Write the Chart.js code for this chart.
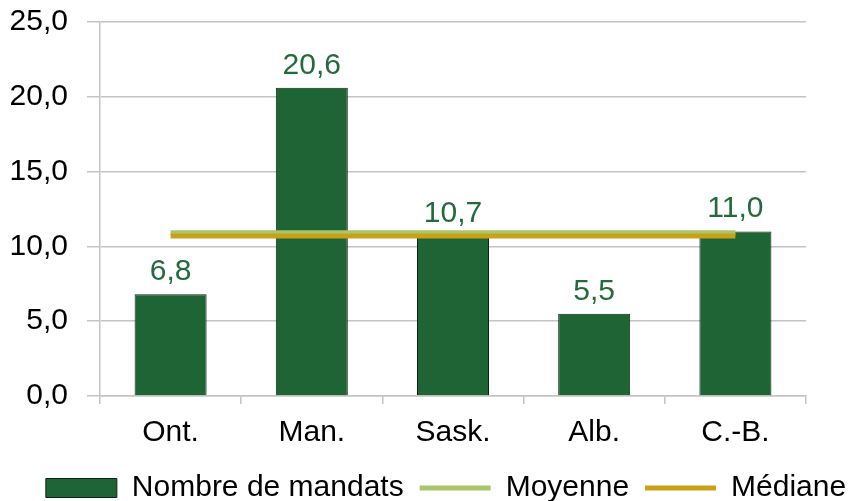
<!DOCTYPE html>
<html>
<head>
<meta charset="utf-8">
<script src="https://cdn.jsdelivr.net/npm/chart.js@4/dist/chart.umd.min.js"></script>
<style>
html,body{margin:0;padding:0;background:#fff;}
#wrap{width:856px;height:501px;position:relative;}
</style>
</head>
<body>
<div id="wrap"><canvas id="c" width="856" height="501"></canvas></div>
<script>
const categories = ["Ont.", "Man.", "Sask.", "Alb.", "C.-B."];
const mandats = [6.8, 20.6, 10.7, 5.5, 11.0];
const moyenne = [10.92, 10.92, 10.92, 10.92, 10.92];
const mediane = [10.7, 10.7, 10.7, 10.7, 10.7];
const seriesNames = ["Nombre de mandats", "Moyenne", "Médiane"];
const yTicks = [0, 5, 10, 15, 20, 25];

const FONT = "'Liberation Sans', Arial, sans-serif";
const fmt = v => v.toFixed(1).replace('.', ',');

const barFill = '#1e6434';
const labelGreen = '#226b3c';
const moyColor = '#aac66a';
const medColor = '#c9a118';
const gridColor = '#c4c4c4';

const dataLabels = {
  id: 'dataLabels',
  afterDatasetsDraw(chart) {
    const ctx = chart.ctx;
    const meta = chart.getDatasetMeta(0);
    ctx.save();
    ctx.font = "30px " + FONT;
    ctx.fillStyle = labelGreen;
    ctx.textAlign = 'center';
    ctx.textBaseline = 'alphabetic';
    meta.data.forEach((el, i) => {
      ctx.fillText(fmt(mandats[i]), el.x, el.y - 14);
    });
    ctx.restore();
  }
};

const shiftLegend = {
  id: 'shiftLegend',
  afterLayout(chart) {
    const lg = chart.legend;
    if (lg) { lg.top += 12; lg.bottom += 12; lg.left += 18; lg.right += 18; }
  }
};

new Chart(document.getElementById('c'), {
  type: 'bar',
  data: {
    labels: categories,
    datasets: [
      { label: seriesNames[0], data: mandats, backgroundColor: barFill, borderColor: '#0c2414', borderWidth: 1,
        barPercentage: 0.51, categoryPercentage: 1, order: 3 },
      { type: 'line', label: seriesNames[1], data: moyenne, borderColor: moyColor, borderWidth: 5,
        pointRadius: 0, fill: false, order: 2 },
      { type: 'line', label: seriesNames[2], data: mediane, borderColor: medColor, borderWidth: 5,
        pointRadius: 0, fill: false, order: 1 }
    ]
  },
  options: {
    responsive: false,
    animation: false,
    layout: { padding: { top: 22, left: 0, right: 0, bottom: 0 } },
    scales: {
      x: {
        grid: {
          offset: true,
          drawOnChartArea: true,
          color: (c) => c.index === 5 ? gridColor : 'rgba(0,0,0,0)',
          tickColor: gridColor,
          tickLength: 8,
          lineWidth: 1.5
        },
        border: { display: true, color: gridColor, width: 1.5 },
        ticks: { color: '#000', font: { family: FONT, size: 30 }, padding: 11, maxRotation: 0 },
        afterFit(s) { s.height = 49; }
      },
      y: {
        min: 0, max: 25,
        afterBuildTicks(s) { s.ticks = yTicks.map(v => ({ value: v })); },
        grid: { color: gridColor, tickColor: gridColor, tickLength: 13, lineWidth: 1.5 },
        border: { display: true, color: gridColor, width: 1.5 },
        ticks: { color: '#000', font: { family: FONT, size: 30 }, padding: 19, callback: v => fmt(v) },
        afterFit(s) { s.width = 100; s.paddingTop = 0; s.paddingBottom = 0; }
      },
      yR: {
        position: 'right',
        display: true,
        grid: { display: false },
        border: { display: false },
        ticks: { display: false },
        afterFit(s) { s.width = 50; s.paddingTop = 0; s.paddingBottom = 0; }
      }
    },
    plugins: {
      tooltip: { enabled: false },
      legend: {
        position: 'bottom',
        labels: {
          font: { family: FONT, size: 30 },
          color: '#000',
          usePointStyle: true,
          pointStyleWidth: 71,
          boxHeight: 19,
          padding: 16,
          generateLabels() {
            return [
              { text: seriesNames[0], pointStyle: 'rect', fillStyle: barFill, strokeStyle: '#0c2414', lineWidth: 1, datasetIndex: 0 },
              { text: seriesNames[1], pointStyle: 'line', fillStyle: moyColor, strokeStyle: moyColor, lineWidth: 5, datasetIndex: 1 },
              { text: seriesNames[2], pointStyle: 'line', fillStyle: medColor, strokeStyle: medColor, lineWidth: 5, datasetIndex: 2 }
            ];
          }
        }
      }
    }
  },
  plugins: [dataLabels, shiftLegend]
});
</script>
</body>
</html>
